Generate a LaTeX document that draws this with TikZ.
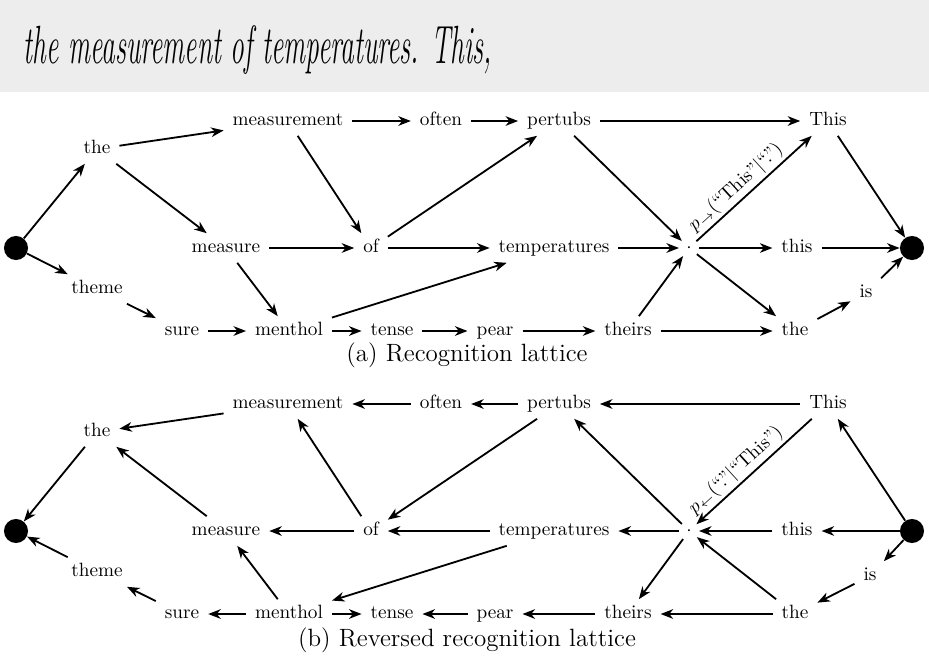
\documentclass[tikz,border=0pt]{standalone}
\usetikzlibrary{arrows.meta}
\definecolor{handbg}{RGB}{237,237,237}
\begin{document}
\begin{tikzpicture}[x=0.52pt,y=-0.52pt,
  w/.style={inner xsep=4.5pt,inner ysep=3pt,text height=7pt,text depth=2pt,font=\fontsize{10}{12}\selectfont},
  term/.style={circle,fill,minimum size=12.5pt,inner sep=0pt},
  mid/.style={circle,minimum size=10pt,inner sep=0pt,font=\fontsize{10}{12}\selectfont},
  e/.style={-{Stealth[length=6.5pt,width=5pt,inset=2pt]},line width=0.95pt},
  capt/.style={font=\fontsize{13}{15}\selectfont},
  lab/.style={sloped,above,pos=0.42,inner sep=1.5pt,font=\fontsize{10}{12}\selectfont},
  hand/.style={font=\fontsize{14}{16}\selectfont\itshape,inner sep=0pt}]
\useasboundingbox (0,0) rectangle (929,661);
\fill[handbg] (0,0) rectangle (929,92);
\node[hand] (handtext) at (258,50) {\scalebox{1.02}[2.0]{the measurement of temperatures. This,}};

% ---------- (a) ----------
\node[term] (aS) at (16,248) {};
\node[w] (athe) at (97,149) {the};
\node[w] (ameasurement) at (288,121) {measurement};
\node[w] (aoften) at (441,121) {often};
\node[w] (apertubs) at (559,121) {pertubs};
\node[w] (aThis) at (828,121) {This};
\node[w] (ameasure) at (226,248) {measure};
\node[w] (aof) at (371,248) {of};
\node[w] (atemp) at (554,248) {temperatures};
\node[mid] (adot) at (689,248) {$\cdot$};
\node[w] (athis) at (797,248) {this};
\node[term] (aE) at (912,248) {};
\node[w] (atheme) at (97,289) {theme};
\node[w] (asure) at (182,331) {sure};
\node[w] (amenthol) at (289,331) {menthol};
\node[w] (atense) at (392,331) {tense};
\node[w] (apear) at (495,331) {pear};
\node[w] (atheirs) at (628,331) {theirs};
\node[w] (athetwo) at (795,331) {the};
\node[w] (ais) at (866,293) {is};
\node[capt] (acap) at (467,355) {(a) Recognition lattice};

\draw[e] (aS) -- (athe);
\draw[e] (aS) -- (atheme);
\draw[e] (athe) -- (ameasurement);
\draw[e] (athe) -- (ameasure);
\draw[e] (ameasurement) -- (aoften);
\draw[e] (ameasurement) -- (aof);
\draw[e] (aoften) -- (apertubs);
\draw[e] (apertubs) -- (aThis);
\draw[e] (apertubs) -- (adot);
\draw[e] (ameasure) -- (aof);
\draw[e] (ameasure) -- (amenthol);
\draw[e] (aof) -- (apertubs);
\draw[e] (aof) -- (atemp);
\draw[e] (atemp) -- (adot);
\draw[e] (adot) -- node[lab] {$p_{\rightarrow}(\mbox{``This''}|\mbox{``.''})$} (aThis);
\draw[e] (adot) -- (athis);
\draw[e] (adot) -- (athetwo);
\draw[e] (athis) -- (aE);
\draw[e] (aThis) -- (aE);
\draw[e] (atheme) -- (asure);
\draw[e] (asure) -- (amenthol);
\draw[e] (amenthol) -- (atemp);
\draw[e] (amenthol) -- (atense);
\draw[e] (atense) -- (apear);
\draw[e] (apear) -- (atheirs);
\draw[e] (atheirs) -- (adot);
\draw[e] (atheirs) -- (athetwo);
\draw[e] (athetwo) -- (ais);
\draw[e] (ais) -- (aE);

% ---------- (b) ----------
\node[term] (bS) at (16,531) {};
\node[w] (bthe) at (97,432) {the};
\node[w] (bmeasurement) at (288,404) {measurement};
\node[w] (boften) at (441,404) {often};
\node[w] (bpertubs) at (559,404) {pertubs};
\node[w] (bThis) at (828,404) {This};
\node[w] (bmeasure) at (226,531) {measure};
\node[w] (bof) at (371,531) {of};
\node[w] (btemp) at (554,531) {temperatures};
\node[mid] (bdot) at (689,531) {$\cdot$};
\node[w] (bthis) at (797,531) {this};
\node[term] (bE) at (912,531) {};
\node[w] (btheme) at (97,572) {theme};
\node[w] (bsure) at (182,614) {sure};
\node[w] (bmenthol) at (289,614) {menthol};
\node[w] (btense) at (392,614) {tense};
\node[w] (bpear) at (495,614) {pear};
\node[w] (btheirs) at (628,614) {theirs};
\node[w] (bthetwo) at (795,614) {the};
\node[w] (bis) at (870,576) {is};
\node[capt] (bcap) at (467,640) {(b) Reversed recognition lattice};

\draw[e] (bthe) -- (bS);
\draw[e] (btheme) -- (bS);
\draw[e] (bmeasurement) -- (bthe);
\draw[e] (bmeasure) -- (bthe);
\draw[e] (boften) -- (bmeasurement);
\draw[e] (bof) -- (bmeasurement);
\draw[e] (bpertubs) -- (boften);
\draw[e] (bThis) -- (bpertubs);
\draw[e] (bdot) -- (bpertubs);
\draw[e] (bof) -- (bmeasure);
\draw[e] (bmenthol) -- (bmeasure);
\draw[e] (bpertubs) -- (bof);
\draw[e] (btemp) -- (bof);
\draw[e] (bdot) -- (btemp);
\draw[e] (bThis) -- node[lab,pos=0.58] {$p_{\leftarrow}(\mbox{``.''}|\mbox{``This''})$} (bdot);
\draw[e] (bthis) -- (bdot);
\draw[e] (bthetwo) -- (bdot);
\draw[e] (bE) -- (bthis);
\draw[e] (bE) -- (bThis);
\draw[e] (bsure) -- (btheme);
\draw[e] (bmenthol) -- (bsure);
\draw[e] (btemp) -- (bmenthol);
\draw[e] (bmenthol) -- (btense);
\draw[e] (bpear) -- (btense);
\draw[e] (btheirs) -- (bpear);
\draw[e] (bdot) -- (btheirs);
\draw[e] (bthetwo) -- (btheirs);
\draw[e] (bis) -- (bthetwo);
\draw[e] (bE) -- (bis);
\end{tikzpicture}
\end{document}
